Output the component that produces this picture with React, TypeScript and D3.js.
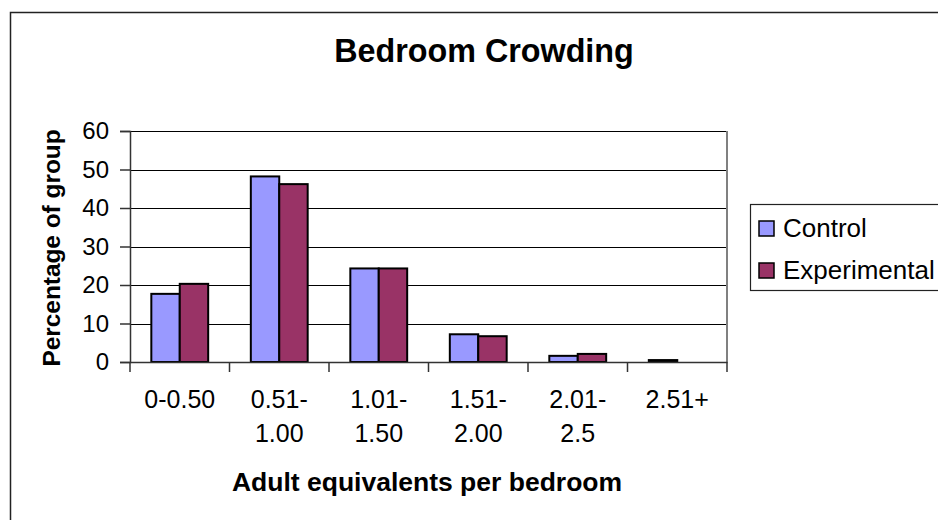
import { useEffect, useRef } from 'react';
import * as d3 from 'd3';

// Chart data
const categories = ['0-0.50', '0.51-|1.00', '1.01-|1.50', '1.51-|2.00', '2.01-|2.5', '2.51+'];
const seriesNames = ['Control', 'Experimental'];
const controlValues = [17.7, 48.2, 24.3, 7.2, 1.6, 0.5];
const experimentalValues = [20.3, 46.2, 24.3, 6.7, 2.1, 0];
const yTicks = [0, 10, 20, 30, 40, 50, 60];

const W = 938;
const H = 520;
const FONT = '"Liberation Sans", Arial, sans-serif';

const App = () => {
  const svgRef = useRef<SVGSVGElement>(null);

  useEffect(() => {
    if (!svgRef.current) return;
    const svg = d3.select(svgRef.current);
    svg.selectAll('*').remove();

    // plot area bounds
    const plot = { left: 130, right: 727, top: 131, bottom: 362 };

    const x0 = d3.scaleBand<string>()
      .domain(categories)
      .range([plot.left, plot.right])
      .padding(0);

    const x1 = d3.scaleBand<string>()
      .domain(seriesNames)
      .range([0, x0.bandwidth()])
      .paddingInner(0)
      .paddingOuter(0.75);

    const y = d3.scaleLinear()
      .domain([0, 60])
      .range([plot.bottom, plot.top]);

    const color = d3.scaleOrdinal<string, string>()
      .domain(seriesNames)
      .range(['#9999ff', '#993366']);

    svg.append('rect')
      .attr('width', W)
      .attr('height', H)
      .attr('fill', '#ffffff');

    // outer chart frame (right/bottom run off the page)
    svg.append('rect')
      .attr('x', 10.5)
      .attr('y', 12.5)
      .attr('width', 1000)
      .attr('height', 600)
      .attr('fill', 'none')
      .attr('stroke', '#222')
      .attr('stroke-width', 1.5);

    // title
    svg.append('text')
      .attr('x', 484)
      .attr('y', 62)
      .attr('text-anchor', 'middle')
      .style('font-family', FONT)
      .style('font-size', '32.3px')
      .style('font-weight', 'bold')
      .text('Bedroom Crowding');

    // gridlines
    svg.append('g')
      .selectAll('line')
      .data(yTicks.filter(d => d > 0))
      .join('line')
      .attr('x1', plot.left)
      .attr('x2', plot.right)
      .attr('y1', d => Math.round(y(d)) + 0.5)
      .attr('y2', d => Math.round(y(d)) + 0.5)
      .attr('stroke', '#000')
      .attr('stroke-width', 1);

    // plot area right border
    svg.append('line')
      .attr('x1', plot.right)
      .attr('x2', plot.right)
      .attr('y1', plot.top)
      .attr('y2', plot.bottom)
      .attr('stroke', '#808080')
      .attr('stroke-width', 2);

    // bars
    const rows = categories.map((c, i) => ({
      category: c,
      values: [
        { key: 'Control', value: controlValues[i] },
        { key: 'Experimental', value: experimentalValues[i] },
      ],
    }));

    svg.append('g')
      .selectAll('g')
      .data(rows)
      .join('g')
      .attr('transform', d => `translate(${x0(d.category)},0)`)
      .selectAll('rect')
      .data(d => d.values.filter(v => v.value > 0))
      .join('rect')
      .attr('x', d => x1(d.key)!)
      .attr('y', d => y(d.value))
      .attr('width', x1.bandwidth())
      .attr('height', d => y(0) - y(d.value))
      .attr('fill', d => color(d.key))
      .attr('stroke', '#000')
      .attr('stroke-width', 2);

    // y axis
    const yAxis = svg.append('g')
      .attr('transform', `translate(${plot.left},0)`)
      .call(d3.axisLeft(y).tickValues(yTicks).tickSize(10).tickPadding(11).tickFormat(d3.format('d')));
    yAxis.select('.domain').attr('stroke', '#333').attr('stroke-width', 1.5);
    yAxis.selectAll('.tick line').attr('stroke', '#333').attr('stroke-width', 1.5);
    yAxis.selectAll('.tick text')
      .attr('fill', '#000')
      .style('font-family', FONT)
      .style('font-size', '24px');

    // x axis
    const xAxis = svg.append('g')
      .attr('transform', `translate(0,${plot.bottom})`)
      .call(d3.axisBottom(x0).tickSize(0).tickFormat(() => ''));
    xAxis.select('.domain').attr('stroke', '#333').attr('stroke-width', 1.5);

    const boundaries = d3.range(categories.length + 1).map(i => plot.left + i * x0.step());
    svg.append('g')
      .selectAll('line')
      .data(boundaries)
      .join('line')
      .attr('x1', d => d)
      .attr('x2', d => d)
      .attr('y1', plot.bottom)
      .attr('y2', plot.bottom + 10)
      .attr('stroke', '#333')
      .attr('stroke-width', 1.5);

    // category labels (two lines)
    const catLabels = svg.append('g')
      .selectAll('text')
      .data(categories)
      .join('text')
      .attr('x', d => x0(d)! + x0.bandwidth() / 2)
      .attr('y', 408)
      .attr('text-anchor', 'middle')
      .style('font-family', FONT)
      .style('font-size', '25px');
    catLabels.selectAll('tspan')
      .data(d => d.split('|'))
      .join('tspan')
      .attr('x', function () {
        return (this as SVGTSpanElement).parentElement!.getAttribute('x');
      })
      .attr('dy', (_d, i) => (i === 0 ? 0 : 34))
      .text(d => d);

    // axis titles
    svg.append('text')
      .attr('x', 427)
      .attr('y', 491)
      .attr('text-anchor', 'middle')
      .style('font-family', FONT)
      .style('font-size', '26.5px')
      .style('font-weight', 'bold')
      .text('Adult equivalents per bedroom');

    svg.append('text')
      .attr('transform', 'translate(60,248) rotate(-90)')
      .attr('text-anchor', 'middle')
      .style('font-family', FONT)
      .style('font-size', '24.4px')
      .style('font-weight', 'bold')
      .text('Percentage of group');

    // legend
    const legend = svg.append('g').attr('transform', 'translate(750,204)');
    legend.append('rect')
      .attr('x', 0.5)
      .attr('y', 0.5)
      .attr('width', 300)
      .attr('height', 86)
      .attr('fill', '#fff')
      .attr('stroke', '#222')
      .attr('stroke-width', 1.2);

    const items = legend.selectAll('g.item')
      .data(seriesNames)
      .join('g')
      .attr('class', 'item')
      .attr('transform', (_d, i) => `translate(9,${17 + i * 42})`);
    items.append('rect')
      .attr('width', 15)
      .attr('height', 15)
      .attr('fill', d => color(d))
      .attr('stroke', '#000')
      .attr('stroke-width', 1.5);
    items.append('text')
      .attr('x', 24)
      .attr('y', 16)
      .style('font-family', FONT)
      .style('font-size', '26px')
      .text(d => d);
  }, []);

  return (
    <svg
      ref={svgRef}
      width={W}
      height={H}
      style={{ position: 'absolute', left: 0, top: 0, display: 'block' }}
    />
  );
};

export default App;
